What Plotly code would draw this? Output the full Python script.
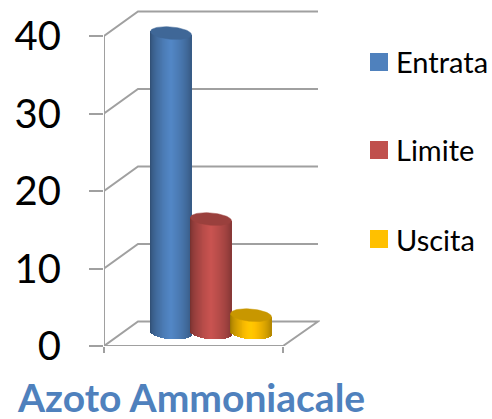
import numpy as np
import plotly.graph_objects as go

# Data
series_names = ["Entrata", "Limite", "Uscita"]
series_values = [38.7, 14.7, 2.3]
series_colors = ["#4F81BD", "#C0504D", "#FFC000"]
cap_colors = ["#3F6797", "#9A403D", "#C89700"]
tick_values = [0, 10, 20, 30, 40]
title_text = "Azoto Ammoniacale"

# Pseudo-3D geometry (x axis is in pixels, y axis in value units)
PX = 7.75
X_FRONT, X_FRONT_R = 104, 283
DX, DY = 34, 24.5 / PX
X_WALL_R = 318
CENTERS = [171, 211, 251]
RADIUS = 20.5
CAP_B = 6.2 / PX
TILT = -0.08 / PX
BASE = 13 / PX
N = 42


def shade(hex_color, f):
    rgb = [int(hex_color[i:i + 2], 16) for i in (1, 3, 5)]
    out = [min(255, int(c * f)) for c in rgb]
    return "rgb({},{},{})".format(*out)


def profile(t):
    return 0.56 + 0.49 * np.clip(1 - np.abs(t - 0.52) / 0.52, 0, 1) ** 0.5


fig = go.Figure()

for name, val, col, cap, cx in zip(series_names, series_values, series_colors, cap_colors, CENTERS):
    t = (np.arange(N) + 0.5) / N
    xs = cx - RADIUS + 2 * RADIUS * t
    dx = xs - cx
    bottom = BASE + TILT * dx - CAP_B * np.sqrt(np.clip(1 - (dx / RADIUS) ** 2, 0, 1))
    top = BASE + val + TILT * dx
    fig.add_trace(go.Bar(
        x=xs, base=bottom, y=top - bottom,
        width=[2 * RADIUS / N + 0.4] * N,
        marker=dict(color=[shade(col, profile(v)) for v in t], line=dict(width=0)),
        name=name, showlegend=False, hoverinfo="skip", cliponaxis=False,
    ))
    a = np.linspace(0, 2 * np.pi, 80)
    ex = cx + RADIUS * np.cos(a)
    ey = BASE + val + TILT * (ex - cx) + CAP_B * np.sin(a)
    fig.add_trace(go.Scatter(
        x=ex, y=ey, mode="lines", fill="toself", fillcolor=cap,
        line=dict(color=cap, width=0.5), showlegend=False, hoverinfo="skip", cliponaxis=False,
    ))

GRID = dict(color="#A0A0A0", width=2)
shapes = []
for v in tick_values[1:]:
    shapes.append(dict(type="path", xref="x", yref="y", layer="below", line=GRID,
                       path=f"M{X_FRONT},{v} L{X_FRONT + DX},{v + DY} L{X_WALL_R},{v + DY}"))
shapes.append(dict(type="path", xref="x", yref="y", layer="below", line=GRID,
                   path=f"M{X_FRONT},{tick_values[-1]} L{X_FRONT},0 L{X_FRONT_R},0 "
                        f"L{X_WALL_R},{DY} L{X_FRONT + DX},{DY} L{X_FRONT},0"))

annotations = []
LEG_Y = [62, 150, 239]
for name, col, ly in zip(series_names, series_colors, LEG_Y):
    shapes.append(dict(type="rect", xref="paper", yref="paper", layer="above", line=dict(width=0),
                       fillcolor=col,
                       x0=(370 - 104) / 216, x1=(388 - 104) / 216,
                       y0=(346 - ly - 9) / 341, y1=(346 - ly + 9) / 341))
    annotations.append(dict(text=name, xref="paper", yref="paper", xanchor="left", yanchor="middle",
                            x=(394 - 104) / 216, y=(346 - ly) / 341, showarrow=False,
                            font=dict(family="Lato", size=29, color="#000000")))
annotations.append(dict(text=f"<b>{title_text}</b>", xref="paper", yref="paper", xanchor="left",
                        yanchor="middle", x=(15 - 104) / 216, y=(346 - 397) / 341, showarrow=False,
                        font=dict(family="Lato", size=39, color="#4F81BD")))

fig.update_layout(
    width=492, height=419, autosize=False,
    margin=dict(l=104, r=172, t=5, b=73, pad=0),
    paper_bgcolor="white", plot_bgcolor="white",
    barmode="overlay", bargap=0, showlegend=False,
    shapes=shapes, annotations=annotations,
    xaxis=dict(range=[104, 320], showgrid=False, zeroline=False, showline=False,
               tickmode="array", tickvals=[X_FRONT, X_FRONT_R], showticklabels=False,
               ticks="outside", ticklen=6, tickcolor="#A0A0A0", tickwidth=2),
    yaxis=dict(range=[0, 341 / PX], showgrid=False, zeroline=False, showline=False,
               tickmode="array", tickvals=tick_values, ticks="outside", ticklen=14,
               tickcolor="#A0A0A0", tickwidth=2, ticklabelstandoff=20,
               tickfont=dict(family="Lato", size=40, color="#000000")),
)

fig.write_html("out.html", config={"displayModeBar": False},
               post_script="document.body.style.margin='0';document.documentElement.style.overflow='hidden';")
